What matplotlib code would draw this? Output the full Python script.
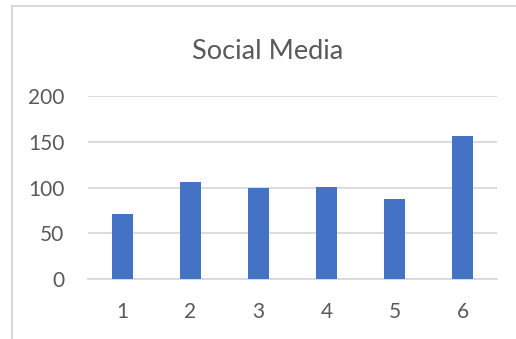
import matplotlib.pyplot as plt
from matplotlib.lines import Line2D

# Social media counts per period
categories = [1, 2, 3, 4, 5, 6]
values = [71, 106, 100, 101, 87, 156]
yticks = [0, 50, 100, 150, 200]

BAR_COLOR = '#4472C4'
GRID_COLOR = '#D9D9D9'
TEXT_COLOR = '#595959'

plt.rcParams['font.family'] = ['Lato', 'DejaVu Sans']

DPI = 100
fig = plt.figure(figsize=(516/DPI, 339/DPI), dpi=DPI)
ax = fig.add_axes([88/516, 1 - 279.3/339, (497-88)/516, (279.3-95.7)/339])

ax.bar(categories, values, width=0.31, color=BAR_COLOR, zorder=3)

ax.set_xlim(0.5, 6.5)
ax.set_ylim(0, 200)
ax.set_yticks(yticks)
ax.set_xticks(categories)
ax.yaxis.grid(True, color=GRID_COLOR, linewidth=1.3, zorder=0)
for side in ['top', 'right', 'left']:
    ax.spines[side].set_visible(False)
ax.spines['bottom'].set_color(GRID_COLOR)
ax.spines['bottom'].set_linewidth(1.3)
ax.tick_params(axis='both', length=0, labelsize=15, labelcolor=TEXT_COLOR)
ax.tick_params(axis='y', pad=17)
ax.tick_params(axis='x', pad=16.5)

fig.text(268/516, 1 - 59.3/339, 'Social Media', ha='center', va='baseline',
         fontsize=19.5, color=TEXT_COLOR)

# chart area border (left and top edges)
fig.add_artist(Line2D([12/516, 12/516], [0, 1 - 6/339], transform=fig.transFigure,
                      color=GRID_COLOR, linewidth=1.5))
fig.add_artist(Line2D([12/516, 1], [1 - 6/339, 1 - 6/339], transform=fig.transFigure,
                      color=GRID_COLOR, linewidth=1.5))

plt.savefig('out.png', dpi=DPI)
